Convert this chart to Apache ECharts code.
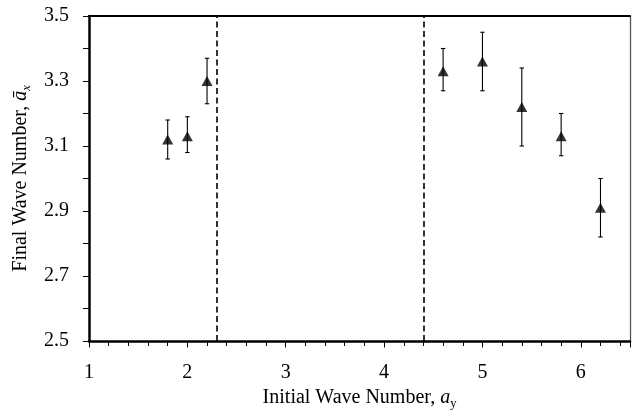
<!DOCTYPE html>
<html>
<head>
<meta charset="utf-8">
<script src="https://cdn.jsdelivr.net/npm/echarts@6/dist/echarts.min.js"></script>
<style>
html,body{margin:0;padding:0;background:#fff;}
#chart{width:633px;height:418px;}
</style>
</head>
<body>
<div id="chart"></div>
<script>
// Data
const initialWaveNumber = [1.8, 2.0, 2.2, 4.6, 5.0, 5.4, 5.8, 6.2];
const finalWaveNumber   = [3.12, 3.13, 3.30, 3.33, 3.36, 3.22, 3.13, 2.91];
const errorUpper        = [3.18, 3.19, 3.37, 3.40, 3.45, 3.34, 3.20, 3.00];
const errorLower        = [3.06, 3.08, 3.23, 3.27, 3.27, 3.10, 3.07, 2.82];
const regimeBoundaries  = [2.3, 4.4];
const xTickLabels = [1, 2, 3, 4, 5, 6];
const yTickLabels = [2.5, 2.7, 2.9, 3.1, 3.3, 3.5];

const FONT = 'Liberation Serif';
const chart = echarts.init(document.getElementById('chart'), null, {renderer: 'canvas'});

const points = initialWaveNumber.map((x, i) => [x, finalWaveNumber[i]]);
const bars = initialWaveNumber.map((x, i) => [x, errorLower[i], errorUpper[i]]);

const option = {
  animation: false,
  backgroundColor: '#fff',
  grid: {left: 89, right: 2, top: 16, bottom: 77},
  xAxis: [
    {
      type: 'value', position: 'bottom', min: 1, max: 6.5, interval: 0.2,
      axisLine: {show: true, lineStyle: {color: '#000', width: 2.5}},
      axisTick: {show: true, length: 5, lineStyle: {color: '#000', width: 1}},
      axisLabel: {show: false},
      splitLine: {show: false}
    },
    {
      type: 'value', position: 'bottom', min: 1, max: 6.5, interval: 1,
      axisLine: {show: false},
      axisTick: {show: true, length: 6.5, lineStyle: {color: '#000', width: 1}},
      axisLabel: {
        show: true, margin: 22, color: '#000', fontFamily: FONT, fontSize: 20,
        formatter: v => xTickLabels.indexOf(Math.round(v * 1000) / 1000) >= 0 ? String(Math.round(v)) : ''
      },
      splitLine: {show: false},
      name: '{n|Initial Wave Number, }{i|a}{s|y}',
      nameLocation: 'middle', nameGap: 45,
      nameTextStyle: {
        color: '#000', fontFamily: FONT, fontSize: 20,
        rich: {
          n: {fontFamily: FONT, fontSize: 20, color: '#000', lineHeight: 24},
          i: {fontFamily: FONT, fontSize: 20, fontStyle: 'italic', color: '#000', lineHeight: 24},
          s: {fontFamily: FONT, fontSize: 12.5, color: '#000', lineHeight: 13, verticalAlign: 'bottom'}
        }
      }
    },
    {
      type: 'value', position: 'top', min: 1, max: 6.5,
      axisLine: {show: true, lineStyle: {color: '#000', width: 2}},
      axisTick: {show: false}, axisLabel: {show: false}, splitLine: {show: false}
    }
  ],
  yAxis: [
    {
      type: 'value', position: 'left', min: 2.5, max: 3.5, interval: 0.1,
      axisLine: {show: true, lineStyle: {color: '#000', width: 2.5}},
      axisTick: {show: true, length: 6, lineStyle: {color: '#000', width: 1}},
      axisLabel: {
        show: true, margin: 20, color: '#000', fontFamily: FONT, fontSize: 20,
        formatter: v => {
          const r = Math.round(v * 10) / 10;
          return yTickLabels.some(t => Math.abs(t - r) < 1e-6) ? r.toFixed(1) : '';
        }
      },
      splitLine: {show: false},
      name: '{n|Final Wave Number, }{i|ā}{s|x}',
      nameLocation: 'middle', nameGap: 55, nameRotate: 90,
      nameTextStyle: {
        color: '#000', fontFamily: FONT, fontSize: 20,
        rich: {
          n: {fontFamily: FONT, fontSize: 20, color: '#000', lineHeight: 24},
          i: {fontFamily: FONT, fontSize: 20, fontStyle: 'italic', color: '#000', lineHeight: 24},
          s: {fontFamily: FONT, fontSize: 12.5, fontStyle: 'italic', color: '#000', lineHeight: 13, verticalAlign: 'bottom'}
        }
      }
    },
    {
      type: 'value', position: 'right', min: 2.5, max: 3.5,
      axisLine: {show: true, lineStyle: {color: '#555', width: 1.3}},
      axisTick: {show: false}, axisLabel: {show: false}, splitLine: {show: false}
    }
  ],
  series: [
    {
      type: 'custom', xAxisIndex: 0, yAxisIndex: 0, z: 3,
      data: bars,
      renderItem: (params, api) => {
        const x = api.value(0);
        const lo = api.coord([x, api.value(1)]);
        const hi = api.coord([x, api.value(2)]);
        const cap = 2.2;
        const style = {stroke: '#000', lineWidth: 1.1};
        return {
          type: 'group',
          children: [
            {type: 'line', shape: {x1: lo[0], y1: lo[1], x2: hi[0], y2: hi[1]}, style},
            {type: 'line', shape: {x1: lo[0] - cap, y1: lo[1], x2: lo[0] + cap, y2: lo[1]}, style},
            {type: 'line', shape: {x1: hi[0] - cap, y1: hi[1], x2: hi[0] + cap, y2: hi[1]}, style}
          ]
        };
      }
    },
    {
      type: 'scatter', xAxisIndex: 0, yAxisIndex: 0, z: 4,
      symbol: 'triangle', symbolSize: [11, 10],
      itemStyle: {color: '#000'},
      data: points,
      markLine: {
        silent: true, symbol: 'none', label: {show: false},
        lineStyle: {color: '#000', width: 1.6, type: [6, 3.5]},
        data: regimeBoundaries.map(v => ({xAxis: v}))
      }
    }
  ]
};
chart.setOption(option);
</script>
</body>
</html>
